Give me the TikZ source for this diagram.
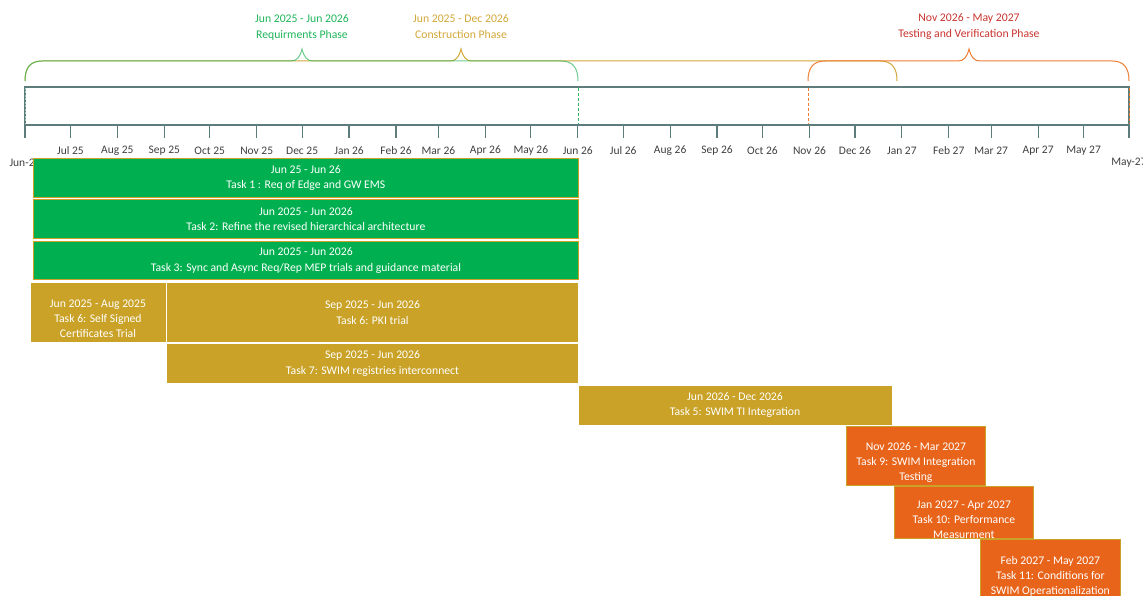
\documentclass[tikz,border=0pt]{standalone}
\usepackage{fontspec}
\setmainfont{Carlito}
\usepackage{tikz}

\definecolor{reqgreen}{HTML}{00B050}
\definecolor{buildgold}{HTML}{C9A227}
\definecolor{testorange}{HTML}{E8641A}
\definecolor{axisgrey}{HTML}{5F7C7C}
\definecolor{monthgrey}{HTML}{404040}
\definecolor{reqtext}{HTML}{1DB558}
\definecolor{buildtext}{HTML}{D2A737}
\definecolor{testtext}{HTML}{C8342E}
\definecolor{bracegreen}{HTML}{2CB55E}
\definecolor{bracegold}{HTML}{D1A838}
\definecolor{braceorange}{HTML}{EE7D32}

\begin{document}
\begin{tikzpicture}[x=1pt, y=-1pt,
task/.style={rectangle, anchor=north west, inner sep=0pt, text=white,
  align=center, font=\fontsize{11.7}{15.5}\selectfont},
%
reqtask/.style={task, fill=reqgreen, draw=buildgold, line width=0.8pt},
%
buildtask/.style={task, fill=buildgold, draw=white, line width=1pt},
%
testtask/.style={task, fill=testorange, draw=buildgold, line width=0.8pt},
%
tasklabel/.style={text=white, align=center, inner sep=0pt,
  font=\fontsize{11.7}{15}\selectfont},
%
monthlabel/.style={text=monthgrey, inner sep=0pt,
  font=\fontsize{11.5}{14}\selectfont},
%
phasetext/.style={align=center, inner sep=0pt,
  font=\fontsize{11.7}{16}\selectfont},
%
brace/.style={line width=1pt},
%
tick/.style={draw=axisgrey, line width=1.2pt}]

\useasboundingbox (0,0) rectangle (1143,596);

\begin{scope}
  %%%%%%%%%%%%%%%%%%%%%%%%%%%%%%
  \node [phasetext, text=reqtext] (reqphase) at (302,27)
  {Jun 2025 - Jun 2026\\Requirments Phase};
  \node [phasetext, text=buildtext] (buildphase) at (461,27)
  {Jun 2025 - Dec 2026\\Construction Phase};
  \node [phasetext, text=testtext] (testphase) at (969,27)
  {Nov 2026 - May 2027\\Testing and Verification Phase};
  %%%%%%%%%%%%%%%%%%%%%%%%%%%%%%
  \draw [brace, bracegold] (25,81) .. controls (25,68) and (30,61) .. (42,61)
  -- (450,61) .. controls (456,61) and (459,57) .. (461,49)
  .. controls (463,57) and (466,61) .. (472,61) -- (880,61)
  .. controls (892,61) and (897,68) .. (897,81);
  \draw [brace, bracegreen, opacity=.7] (25,81) .. controls (25,68) and (30,61) .. (42,61)
  -- (291,61) .. controls (297,61) and (300,57) .. (302,49)
  .. controls (304,57) and (307,61) .. (313,61) -- (561,61)
  .. controls (573,61) and (578,68) .. (578,81);
  \draw [brace, braceorange] (808,81) .. controls (808,68) and (813,61) .. (825,61)
  -- (958,61) .. controls (964,61) and (967,57) .. (969,49)
  .. controls (971,57) and (974,61) .. (980,61) -- (1112,61)
  .. controls (1124,61) and (1129,68) .. (1129,81);
\end{scope}

\begin{scope}
  %%%%%%%%%%%%%%%%%%%%%%%%%%%%%%
  \draw [draw=axisgrey, line width=1.5pt] (25,87) rectangle (1129,125);
  \draw [bracegreen!60!axisgrey!50, dashed, dash pattern=on 2pt off 1.5pt]
  (25,88) -- (25,124);
  \draw [bracegreen, dashed, dash pattern=on 3pt off 2pt] (578,88) -- (578,124);
  \draw [braceorange, dashed, dash pattern=on 3pt off 2pt] (808,88) -- (808,124);
  \draw [braceorange, dashed, dash pattern=on 3pt off 2pt] (1129,88) -- (1129,124);
  %%%%%%%%%%%%%%%%%%%%%%%%%%%%%%
  \foreach \d/\m in {30/Jul 25, 61/Aug 25, 92/Sep 25, 122/Oct 25, 153/Nov 25,
    183/Dec 25, 214/Jan 26, 245/Feb 26, 273/Mar 26, 304/Apr 26, 334/May 26,
    365/Jun 26, 395/Jul 26, 426/Aug 26, 457/Sep 26, 487/Oct 26, 518/Nov 26,
    548/Dec 26, 579/Jan 27, 610/Feb 27, 638/Mar 27, 669/Apr 27, 699/May 27} {
    \draw [tick] ({25+1.5144*\d},125) -- ++(0,13);
    \node [monthlabel] (m\d) at ({25+1.5144*\d},151) {\m};
  }
  \draw [tick] (25,125) -- ++(0,13);
  \draw [tick] (1129,125) -- ++(0,13);
  \node [monthlabel] (startM) at (25,163) {Jun-25};
  \node [monthlabel] (endM) at (1129,163) {May-27};
\end{scope}

\begin{scope}
  %%%%%%%%%%%%%%%%%%%%%%%%%%%%%%
  \node [reqtask, minimum width=545pt, minimum height=39pt] (task1) at (33,158)
  {Jun 25 - Jun 26\\Task 1 : Req of Edge and GW EMS};
  \node [reqtask, minimum width=545pt, minimum height=39pt] (task2) at (33,199)
  {Jun 2025 - Jun 2026\\Task 2: Refine the revised hierarchical architecture};
  \node [reqtask, minimum width=545pt, minimum height=38pt] (task3) at (33,241)
  {Jun 2025 - Jun 2026\\Task 3: Sync and Async Req/Rep MEP trials and guidance material};
  %%%%%%%%%%%%%%%%%%%%%%%%%%%%%%
  \node [buildtask, minimum width=136pt, minimum height=60pt] (task6a) at (29.5,282) {};
  \node [tasklabel] (task6aText) at ([yshift=-6pt]task6a.center)
  {Jun 2025 - Aug 2025\\Task 6: Self Signed\\Certificates Trial};
  \node [buildtask, minimum width=412pt, minimum height=60pt] (task6b) at (166,282)
  {Sep 2025 - Jun 2026\\Task 6: PKI trial};
  \node [buildtask, minimum width=412pt, minimum height=40pt] (task7) at (166,343)
  {Sep 2025 - Jun 2026\\Task 7: SWIM registries interconnect};
  \node [buildtask, minimum width=314pt, minimum height=40pt] (task5) at (577.5,384.5)
  {Jun 2026 - Dec 2026\\Task 5: SWIM TI Integration};
  %%%%%%%%%%%%%%%%%%%%%%%%%%%%%%
  \node [testtask, minimum width=139pt, minimum height=59pt] (task9) at (846,426) {};
  \node [tasklabel] (task9Text) at ([yshift=-7pt]task9.center)
  {Nov 2026 - Mar 2027\\Task 9: SWIM Integration\\Testing};
  \node [testtask, minimum width=139pt, minimum height=52pt] (task10) at (894,486) {};
  \node [tasklabel] (task10Text) at ([yshift=-7pt]task10.center)
  {Jan 2027 - Apr 2027\\Task 10: Performance\\Measurment};
  \node [testtask, minimum width=140pt, minimum height=60pt] (task11) at (980,539) {};
  \node [tasklabel] (task11Text) at ([yshift=-7pt]task11.center)
  {Feb 2027 - May 2027\\Task 11: Conditions for\\SWIM Operationalization};
\end{scope}

\end{tikzpicture}
\end{document}
